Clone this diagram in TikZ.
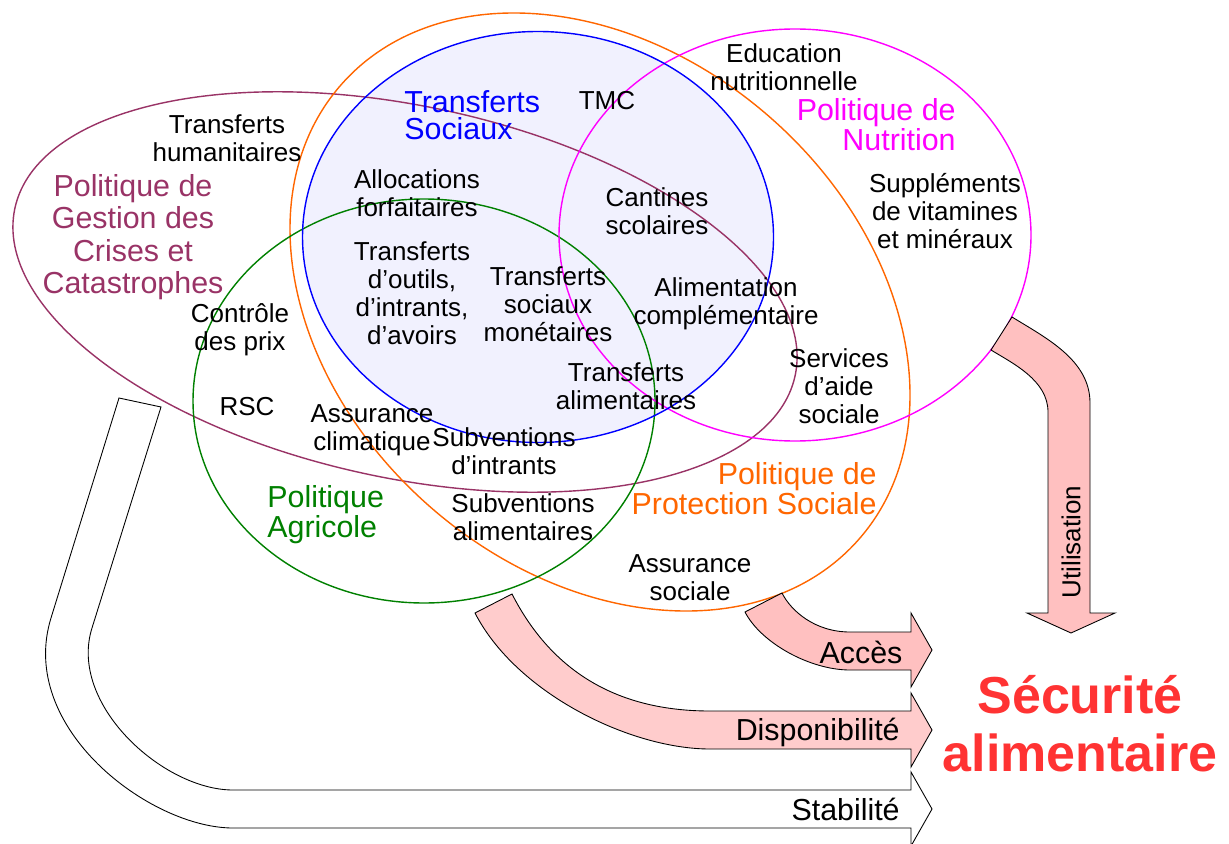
\documentclass[tikz,border=0pt]{standalone}
\usepackage{fontspec}
\setmainfont{Liberation Sans}
\usetikzlibrary{positioning}
\begin{document}
\begin{tikzpicture}[x=0.02cm, y=-0.02cm,
    txt/.style={align=center, inner sep=0pt, font=\fontsize{14.8}{16}\selectfont},
    ttl/.style={inner sep=0pt, font=\fontsize{17.3}{15.5}\selectfont},
    ring/.style={line width=0.8pt},
    band/.style={draw=black, line width=0.5pt, fill={rgb,255:red,255;green,192;blue,192}}]
    \useasboundingbox (0,0) rectangle (1229,844);
    \fill [ fill={rgb,255:red,241;green,241;blue,254} ] (538,237) ellipse [x radius=235.5, y radius=205.5];
    \draw [ ring, draw={rgb,255:red,153;green,51;blue,102}, rotate around={-12.1:(405,292)} ] (405,292) ellipse [x radius=399, y radius=186];
    \draw [ ring, draw={rgb,255:red,255;green,102;blue,0}, rotate around={-41.3:(600,312)} ] (600,312) ellipse [x radius=344.5, y radius=258.5];
    \draw [ ring, draw={rgb,255:red,0;green,128;blue,0} ] (424,401) ellipse [x radius=231, y radius=202];
    \draw [ ring, draw={rgb,255:red,255;green,0;blue,255} ] (795,235) ellipse [x radius=236, y radius=206];
    \draw [ ring, draw={rgb,255:red,0;green,0;blue,255} ] (538,237) ellipse [x radius=235.5, y radius=205.5];
    \draw [ line width=0.5pt, fill=white ] (119,398) -- (51,618) .. controls (17,728) and (150,828) .. (233,828) -- (911,828) -- (911,846) -- (932,809) -- (911,772) -- (911,790) -- (233,790) .. controls (163,790) and (68,704) .. (92,628) -- (161,407) -- cycle;
    \draw [ band, fill={rgb,255:red,255;green,204;blue,204} ] (475,613) .. controls (516,693) and (630,749) .. (710,749) -- (911,749) -- (911,767) -- (932,730) -- (911,693) -- (911,711) -- (710,711) .. controls (620,711) and (553,674) .. (512,594) -- cycle;
    \draw [ band ] (745,612) .. controls (761,643) and (810,670) .. (850,670) -- (911,670) -- (911,687) -- (932,650) -- (911,613) -- (911,632) -- (850,632) .. controls (815,632) and (791,611) .. (782,593) -- cycle;
    \draw [ band ] (1012,317) .. controls (1046,338) and (1090,360) .. (1090,403) -- (1090,613) -- (1115,613) -- (1071,633) -- (1027,613) -- (1048,613) -- (1048,412) .. controls (1048,380) and (1012,363) .. (991,350) -- cycle;
    \node [ txt ] (hum) at (227,138) {Transferts\\humanitaires};
    \node [ ttl, align=center, text={rgb,255:red,153;green,51;blue,102}, font=\fontsize{17.3}{18.5}\selectfont ] (crises) at (133,237) {Politique de\\Gestion des\\Crises et\\Catastrophes};
    \node [ txt ] (prix) at (240,330) {Contrôle\\des prix};
    \node [ txt ] (rsc) at (247,407) {RSC};
    \node [ txt ] (clim) at (372,430) {Assurance\\climatique};
    \node [ ttl, align=left, anchor=west, text={rgb,255:red,0;green,0;blue,255} ] (sociaux) at (404,115) {Transferts\\Sociaux};
    \node [ txt ] (tmc) at (607,101) {TMC};
    \node [ txt ] (alloc) at (417,193) {Allocations\\forfaitaires};
    \node [ txt ] (outils) at (412,293) {Transferts\\d’outils,\\d’intrants,\\d’avoirs};
    \node [ txt ] (monet) at (548,304) {Transferts\\sociaux\\monétaires};
    \node [ txt ] (cantines) at (657,211) {Cantines\\scolaires};
    \node [ txt ] (complem) at (726,304) {Alimentation\\complémentaire};
    \node [ txt ] (alim) at (626,386) {Transferts\\alimentaires};
    \node [ txt ] (services) at (839,386) {Services\\d’aide\\sociale};
    \node [ txt ] (educ) at (784,67) {Education\\nutritionnelle};
    \node [ ttl, align=right, anchor=east, text={rgb,255:red,255;green,0;blue,255} ] (nutrition) at (956,125) {Politique de\\Nutrition};
    \node [ txt ] (suppl) at (945,211) {Suppléments\\de vitamines\\et minéraux};
    \node [ txt ] (subintr) at (504,451) {Subventions\\d’intrants};
    \node [ txt ] (subalim) at (523,517) {Subventions\\alimentaires};
    \node [ ttl, align=left, anchor=west, text={rgb,255:red,0;green,128;blue,0} ] (agricole) at (267,515) {Politique\\Agricole};
    \node [ ttl, align=right, anchor=east, text={rgb,255:red,255;green,102;blue,0} ] (protection) at (877,489) {Politique de\\Protection Sociale};
    \node [ txt ] (assoc) at (690,578) {Assurance\\sociale};
    \node [ ttl ] (acces) at (861,652) {Accès};
    \node [ ttl, anchor=east ] (dispo) at (900,732) {Disponibilité};
    \node [ ttl, anchor=east ] (stab) at (900,809) {Stabilité};
    \node [ txt, rotate=90 ] (util) at (1071,542) {Utilisation};
    \node [ align=center, inner sep=0pt, text={rgb,255:red,255;green,51;blue,51}, font=\fontsize{29.6}{33}\selectfont\bfseries ] (secu) at (1080,724) {Sécurité\\alimentaire};
\end{tikzpicture}
\end{document}
